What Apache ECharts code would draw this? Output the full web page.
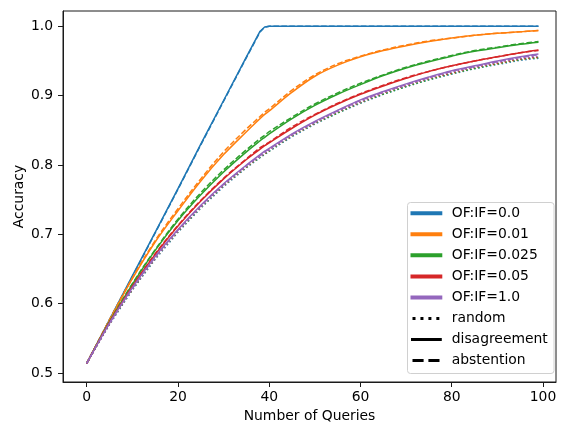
<!DOCTYPE html>
<html><head><meta charset="utf-8">
<script src="https://cdn.jsdelivr.net/npm/echarts@6/dist/echarts.min.js"></script>
<style>html,body{margin:0;padding:0;background:#fff}#c{width:565px;height:422px}</style>
</head><body><div id="c"></div>
<script>
// ---- data ----
const queries = [0,5,10,15,20,25,30,35,38,39,40,45,50,55,60,65,70,75,80,85,90,95,99];
const ratioLabels = ['OF:IF=0.0','OF:IF=0.01','OF:IF=0.025','OF:IF=0.05','OF:IF=1.0'];
const strategyLabels = ['random','disagreement','abstention'];
const xTicks = [0,20,40,60,80,100];
const yTicks = [0.5,0.6,0.7,0.8,0.9,1.0];

// OF:IF=0.0
const r00Random       = [0.514,0.570,0.620,0.664,0.703,0.738,0.769,0.796,0.811,0.815,0.820,0.841,0.859,0.875,0.889,0.902,0.913,0.923,0.931,0.939,0.945,0.951,0.954];
const r00Disagreement = [0.514,0.577,0.640,0.703,0.766,0.830,0.893,0.956,0.993,0.999,1.000,1.000,1.000,1.000,1.000,1.000,1.000,1.000,1.000,1.000,1.000,1.000,1.000];
const r00Abstention   = [0.514,0.577,0.639,0.702,0.765,0.829,0.892,0.955,0.992,0.999,1.000,1.000,1.000,1.000,1.000,1.000,1.000,1.000,1.000,1.000,1.000,1.000,1.000];
// OF:IF=0.01
const r01Random       = [0.514,0.571,0.621,0.665,0.704,0.739,0.770,0.797,0.812,0.816,0.821,0.842,0.860,0.876,0.890,0.903,0.914,0.924,0.932,0.940,0.946,0.952,0.955];
const r01Disagreement = [0.514,0.576,0.636,0.689,0.734,0.777,0.815,0.848,0.867,0.873,0.878,0.905,0.928,0.944,0.956,0.965,0.972,0.978,0.983,0.987,0.990,0.992,0.994];
const r01Abstention   = [0.514,0.577,0.637,0.691,0.737,0.780,0.819,0.852,0.870,0.876,0.881,0.908,0.930,0.946,0.957,0.966,0.973,0.979,0.983,0.987,0.990,0.992,0.994];
// OF:IF=0.025
const r025Random       = [0.514,0.571,0.620,0.665,0.704,0.738,0.770,0.797,0.811,0.816,0.820,0.842,0.860,0.875,0.890,0.902,0.913,0.923,0.932,0.939,0.946,0.952,0.955];
const r025Disagreement = [0.514,0.574,0.628,0.677,0.720,0.757,0.790,0.819,0.835,0.840,0.845,0.867,0.886,0.902,0.916,0.929,0.940,0.949,0.957,0.964,0.969,0.974,0.977];
const r025Abstention   = [0.514,0.574,0.629,0.678,0.722,0.760,0.793,0.822,0.838,0.843,0.848,0.869,0.888,0.904,0.918,0.930,0.941,0.950,0.958,0.965,0.970,0.975,0.978];
// OF:IF=0.05
const r05Random       = [0.514,0.571,0.621,0.666,0.705,0.740,0.771,0.798,0.813,0.817,0.822,0.843,0.861,0.877,0.891,0.904,0.915,0.925,0.933,0.941,0.947,0.953,0.956];
const r05Disagreement = [0.514,0.573,0.625,0.671,0.712,0.748,0.780,0.808,0.823,0.828,0.832,0.853,0.872,0.888,0.902,0.914,0.925,0.935,0.943,0.950,0.956,0.962,0.966];
const r05Abstention   = [0.514,0.573,0.625,0.672,0.713,0.749,0.781,0.809,0.825,0.829,0.833,0.855,0.873,0.889,0.903,0.915,0.926,0.935,0.943,0.950,0.956,0.962,0.965];
// OF:IF=1.0
const r10Random       = [0.514,0.571,0.621,0.665,0.705,0.739,0.771,0.798,0.812,0.817,0.821,0.843,0.861,0.877,0.891,0.904,0.915,0.925,0.934,0.941,0.948,0.954,0.957];
const r10Disagreement = [0.514,0.572,0.623,0.668,0.707,0.742,0.773,0.800,0.815,0.820,0.824,0.845,0.863,0.879,0.894,0.906,0.917,0.927,0.936,0.943,0.950,0.956,0.960];
const r10Abstention   = [0.514,0.572,0.622,0.667,0.706,0.741,0.772,0.799,0.814,0.819,0.823,0.844,0.862,0.878,0.893,0.905,0.916,0.926,0.935,0.942,0.949,0.955,0.959];

// ---- styling ----
const colors = ['#1f77b4','#ff7f0e','#2ca02c','#d62728','#9467bd'];
const groups = [
  [r00Random, r00Disagreement, r00Abstention],
  [r01Random, r01Disagreement, r01Abstention],
  [r025Random, r025Disagreement, r025Abstention],
  [r05Random, r05Disagreement, r05Abstention],
  [r10Random, r10Disagreement, r10Abstention]
];
const dashes = [[1.5, 2.475], 'solid', [5.55, 2.4]];
const FONT = 'DejaVu Sans';
const FS = 13.9;

const series = [];
groups.forEach((g, ci) => {
  g.forEach((arr, si) => {
    series.push({
      type: 'line',
      name: ratioLabels[ci] + ' ' + strategyLabels[si],
      data: queries.map((q, k) => [q, arr[k]]),
      showSymbol: false,
      symbol: 'none',
      smooth: ci === 0 ? false : 0.35,
      lineStyle: { color: colors[ci], width: 1.5, type: dashes[si], cap: 'butt' },
      emphasis: { disabled: true },
      silent: true
    });
  });
});

// ---- legend (drawn as graphic) ----
const legendEls = [];
const lx0 = 412.5, lx1 = 440.3, ty0 = 213.3, step = 21.03, tx = 451.7;
legendEls.push({
  type: 'rect', shape: { x: 407.5, y: 202.5, width: 146.5, height: 171, r: 3 },
  style: { fill: 'rgba(255,255,255,0.8)', stroke: '#d0d0d0', lineWidth: 1 }, z: 100
});
const legendLabels = ratioLabels.concat(strategyLabels);
legendLabels.forEach((lab, i) => {
  const y = ty0 + i * step;
  let style;
  if (i < 5) {
    style = { stroke: colors[i], lineWidth: 4, lineCap: 'square' };
  } else if (i === 5) {
    style = { stroke: '#000', lineWidth: 3, lineDash: [3, 4.95], lineCap: 'butt' };
  } else if (i === 6) {
    style = { stroke: '#000', lineWidth: 3, lineCap: 'square' };
  } else {
    style = { stroke: '#000', lineWidth: 3, lineDash: [11.1, 4.8], lineCap: 'butt' };
  }
  legendEls.push({ type: 'line', shape: { x1: lx0, y1: y, x2: lx1, y2: y }, style: style, z: 101 });
  legendEls.push({
    type: 'text', x: tx, y: y, z: 101,
    style: { text: lab, fill: '#000', font: FS + 'px "' + FONT + '"', textAlign: 'left', textVerticalAlign: 'middle' }
  });
});

const chart = echarts.init(document.getElementById('c'));
chart.setOption({
  animation: false,
  backgroundColor: '#fff',
  textStyle: { fontFamily: FONT },
  grid: { left: 63, right: 9, top: 11, bottom: 40, show: true, borderColor: '#1a1a1a', borderWidth: 1, containLabel: false, outerBoundsMode: 'none' },
  xAxis: {
    type: 'value', min: -5.2, max: 102.85,
    name: 'Number of Queries', nameLocation: 'middle', nameGap: 27, nameMoveOverlap: false,
    nameTextStyle: { fontFamily: FONT, fontSize: FS, color: '#000' },
    axisLine: { show: true, onZero: false, lineStyle: { color: '#1a1a1a', width: 1 } },
    axisTick: { show: true, length: 5, lineStyle: { color: '#1a1a1a', width: 1 }, customValues: xTicks },
    axisLabel: { show: true, margin: 8, fontFamily: FONT, fontSize: FS, color: '#000', customValues: xTicks, formatter: v => String(v) },
    splitLine: { show: false }
  },
  yAxis: {
    type: 'value', min: 0.4871, max: 1.0221,
    name: 'Accuracy', nameLocation: 'middle', nameGap: 37, nameMoveOverlap: false,
    nameTextStyle: { fontFamily: FONT, fontSize: FS, color: '#000' },
    axisLine: { show: true, onZero: false, lineStyle: { color: '#1a1a1a', width: 1 } },
    axisTick: { show: true, length: 5, lineStyle: { color: '#1a1a1a', width: 1 }, customValues: yTicks },
    axisLabel: { show: true, margin: 10, fontFamily: FONT, fontSize: FS, color: '#000', customValues: yTicks, formatter: v => v.toFixed(1) },
    splitLine: { show: false }
  },
  series: series,
  graphic: legendEls
});
</script>
</body></html>
